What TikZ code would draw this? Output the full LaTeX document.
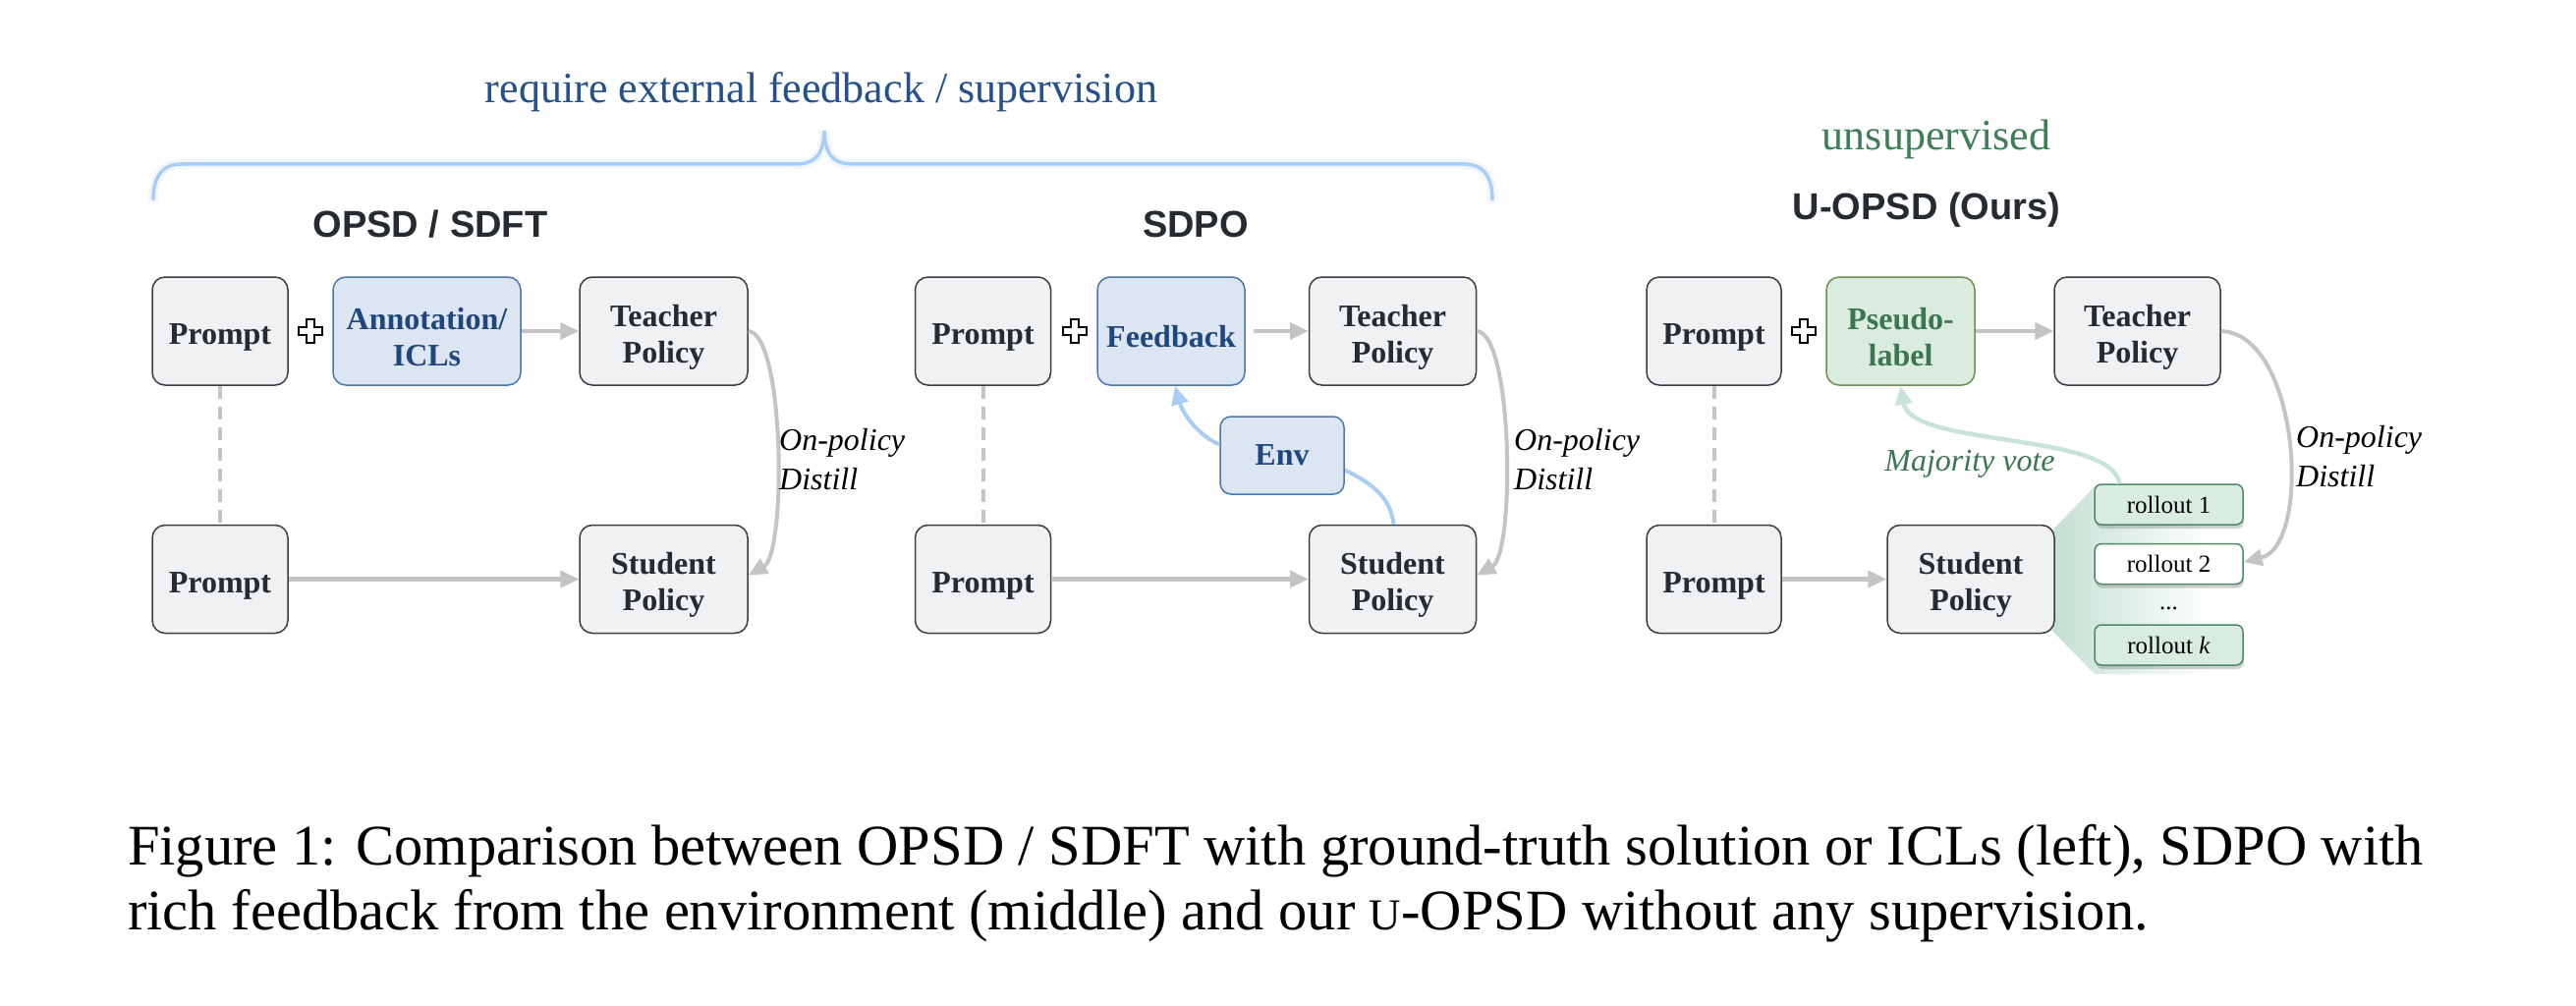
\documentclass[tikz,border=0pt]{standalone}
\usepackage{fontspec}
\setmainfont{Liberation Serif}
\newfontfamily\titlefont{Liberation Sans}
\usetikzlibrary{arrows.meta,shadows}
\definecolor{boxfill}{HTML}{F0F1F3}
\definecolor{boxdraw}{HTML}{3A3D42}
\definecolor{txtdark}{HTML}{262A31}
\definecolor{bluefill}{HTML}{DCE6F2}
\definecolor{bluedraw}{HTML}{4A76AE}
\definecolor{bluetxt}{HTML}{1F477E}
\definecolor{greenfill}{HTML}{DAEBDF}
\definecolor{greendraw}{HTML}{6E8F4E}
\definecolor{greentxt}{HTML}{3B7650}
\definecolor{arrgray}{HTML}{C4C4C4}
\definecolor{arrblue}{HTML}{A9CEF6}
\definecolor{arrmint}{HTML}{C8E4D8}
\definecolor{rollfill}{HTML}{D8ECE1}
\definecolor{rolldraw}{HTML}{4F8A68}
\definecolor{fangreen}{HTML}{C4E0D3}
\definecolor{headblue}{HTML}{24508E}
\definecolor{headgreen}{HTML}{3E7E55}
\newcommand{\lowr}{\rule{0pt}{34pt}}
\tikzset{
  box/.style={draw=boxdraw, line width=1.5pt, fill=boxfill, rounded corners=13pt,
    minimum height=110pt, align=center, inner sep=0pt,
    font=\fontsize{32}{37}\selectfont\bfseries, text=txtdark},
  bluebox/.style={box, draw=bluedraw, fill=bluefill, text=bluetxt},
  greenbox/.style={box, draw=greendraw, fill=greenfill, text=greentxt},
  rollbox/.style={draw=rolldraw, line width=1.5pt, fill=rollfill, rounded corners=7pt,
    minimum width=151pt, minimum height=41pt, inner sep=0pt,
    font=\fontsize{25}{28}\selectfont, text=black,
    drop shadow={shadow xshift=1pt, shadow yshift=-4pt, opacity=0.3, fill=black!60}},
  grayarr/.style={draw=arrgray, line width=4.5pt, -{Triangle[length=19pt,width=17pt]}},
  curvearr/.style={draw=arrgray, line width=4pt, -{Triangle[length=19pt,width=17pt]}},
  bluearr/.style={draw=arrblue, line width=4pt},
  dashln/.style={draw=arrgray, line width=4pt, dash pattern=on 13pt off 8pt},
  lbl/.style={font=\fontsize{32}{40}\selectfont\itshape, align=left, inner sep=0pt},
  ttl/.style={font=\titlefont\bfseries\fontsize{38}{41}\selectfont, text=txtdark, inner sep=0pt},
  head/.style={font=\fontsize{44}{48}\selectfont, inner sep=0pt},
  captxt/.style={font=\fontsize{58.5}{66}\selectfont, text=black, inner sep=0pt, anchor=base west},
  pluspic/.pic={\draw[line width=1.3pt, fill=white] (-4,-12)--(4,-12)--(4,-4)--(12,-4)--(12,4)--(4,4)--(4,12)--(-4,12)--(-4,4)--(-12,4)--(-12,-4)--(-4,-4)--cycle;}
}
\begin{document}
\begin{tikzpicture}[x=1pt,y=-1pt]
\fill[white] (0,0) rectangle (2622,1024);
\useasboundingbox (0,0) rectangle (2622,1024);

% header
\node[head, text=headblue] (req) at (836,94) {require external feedback / supervision};
\draw[arrblue, line width=10pt, opacity=0.15, line cap=round]
  (156,203) .. controls (156,180) and (165,167) .. (185,167) -- (810,167)
  .. controls (832,167) and (838,155) .. (839,133)
  .. controls (840,155) and (846,167) .. (868,167) -- (1490,167)
  .. controls (1510,167) and (1519,180) .. (1519,203);
\draw[arrblue, line width=3.5pt, line cap=round]
  (156,203) .. controls (156,180) and (165,167) .. (185,167) -- (810,167)
  .. controls (832,167) and (838,155) .. (839,133)
  .. controls (840,155) and (846,167) .. (868,167) -- (1490,167)
  .. controls (1510,167) and (1519,180) .. (1519,203);
\node[head, text=headgreen] (uns) at (1971,142) {unsupervised};

\node[ttl] (t1) at (438,228) {OPSD / SDFT};
\node[ttl] (t2) at (1217,228) {SDPO};
\node[ttl] (t3) at (1961,214) {U-OPSD (Ours)};

% ---------- left panel
\node[box, minimum width=138pt] (P1t) at (224,337) {\lowr Prompt};
\node[bluebox, minimum width=191pt] (A1) at (434.5,337) {\lowr Annotation/\\ICLs};
\node[box, minimum width=171pt] (T1) at (675.5,337) {\lowr Teacher\\Policy};
\node[box, minimum width=138pt] (P1b) at (224,589.5) {\lowr Prompt};
\node[box, minimum width=171pt] (S1) at (675.5,589.5) {\lowr Student\\Policy};
\pic at (316,337) {pluspic};
\draw[dashln] (P1t.south) -- (P1b.north);
\draw[grayarr] (A1.east) -- (T1.west);
\draw[grayarr] (P1b.east) -- (S1.west);
\draw[curvearr] (T1.east) .. controls +(37,3) and +(39,-22) .. ([yshift=4pt]S1.east);
\node[lbl, anchor=west] (L1) at (793,468) {On-policy\\Distill};

% ---------- middle panel
\node[box, minimum width=138pt] (P2t) at (1000.5,337) {\lowr Prompt};
\node[bluebox, minimum width=150pt] (F2) at (1192,337) {\lowr Feedback};
\node[box, minimum width=170pt] (T2) at (1417.5,337) {\lowr Teacher\\Policy};
\node[box, minimum width=138pt] (P2b) at (1000.5,589.5) {\lowr Prompt};
\node[box, minimum width=170pt] (S2) at (1417.5,589.5) {\lowr Student\\Policy};
\pic at (1094,337) {pluspic};
\draw[dashln] (P2t.south) -- (P2b.north);
\draw[grayarr] ([xshift=8pt]F2.east) -- (T2.west);
\draw[grayarr] (P2b.east) -- (S2.west);
\draw[curvearr] (T2.east) .. controls +(37,3) and +(39,-22) .. ([yshift=4pt]S2.east);
\node[lbl, anchor=west] (L2) at (1541,468) {On-policy\\Distill};
\draw[bluearr] ([xshift=1pt]S2.north) .. controls +(-3,-30) and +(24,12) .. (1368,478);
\node[bluebox, minimum width=126pt, minimum height=79pt, rounded corners=11pt] (Env) at (1305,463.5) {Env};
\draw[bluearr, -{Triangle[length=19pt,width=17pt]}] ([yshift=11pt]Env.west) .. controls +(-27,-12) and +(6,22) .. ([xshift=4pt]F2.south);

% ---------- right panel
\shade[left color=fangreen, right color=white]
  (2089,540) -- (2132,495) -- (2250,495) -- (2250,686) -- (2132,686) -- (2089,642) -- cycle;
\node[box, minimum width=137pt] (P3t) at (1744.5,337) {\lowr Prompt};
\node[greenbox, minimum width=151pt] (PL) at (1934.5,337) {\lowr Pseudo-\\label};
\node[box, minimum width=169pt] (T3) at (2175.5,337) {\lowr Teacher\\Policy};
\node[box, minimum width=137pt] (P3b) at (1744.5,589.5) {\lowr Prompt};
\node[box, minimum width=170pt] (S3) at (2006,589.5) {\lowr Student\\Policy};
\pic at (1836,337) {pluspic};
\draw[dashln] (P3t.south) -- (P3b.north);
\draw[grayarr] (PL.east) -- (T3.west);
\draw[grayarr] (P3b.east) -- (S3.west);
\node[rollbox] (r1) at (2207.5,513.5) {rollout 1};
\node[rollbox, fill=white] (r2) at (2207.5,574) {rollout 2};
\node[font=\fontsize{25}{28}\selectfont, inner sep=0pt] (dots) at (2207.5,619) {...};
\node[rollbox] (rk) at (2207.5,656.5) {rollout \textit{k}};
\draw[curvearr] (T3.east) .. controls +(80,3) and +(70,-17) .. ([yshift=2pt]r2.east);
\node[lbl, anchor=west] (L3) at (2337,465) {On-policy\\Distill};
\draw[draw=arrmint, line width=4.5pt, -{Triangle[length=19pt,width=17pt]}]
  ([xshift=-50pt]r1.north) .. controls +(-8,-53) and +(11,63) .. (PL.south);
\node[lbl, text=greentxt] (MV) at (2005,472) {Majority vote};

% ---------- caption
\node[captxt] (c1) at (130,880) {Figure 1: Comparison between OPSD / SDFT with ground-truth solution or ICLs (left), SDPO with};
\node[captxt] (c2) at (130,946) {rich feedback from the environment (middle) and our {\fontsize{45}{50}\selectfont U}-OPSD without any supervision.};
\end{tikzpicture}
\end{document}
